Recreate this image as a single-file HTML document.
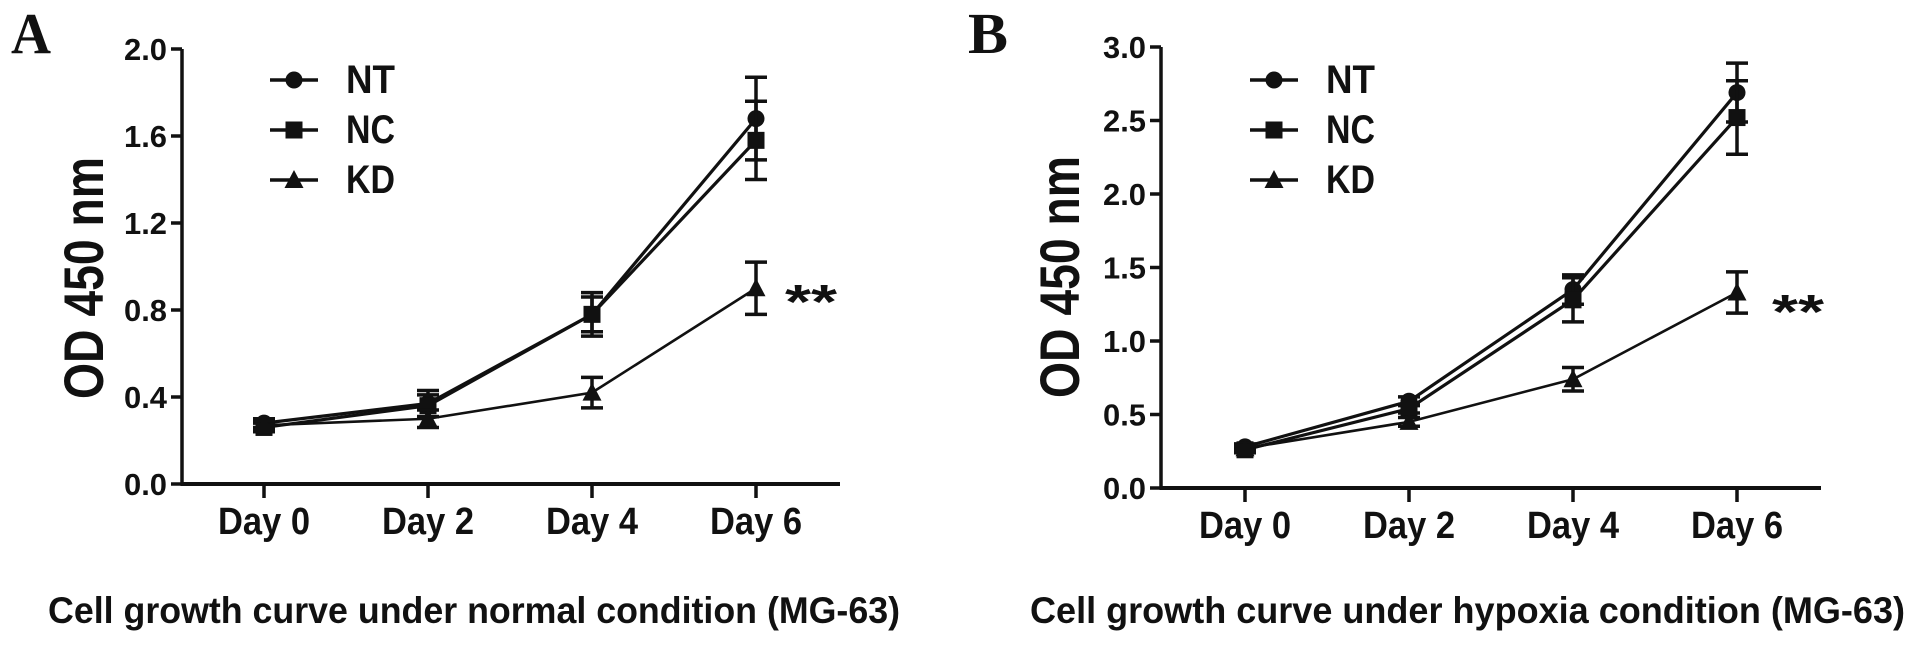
<!DOCTYPE html>
<html><head><meta charset="utf-8"><style>
html,body{margin:0;padding:0;background:#fff;}
svg{display:block;}
text{font-family:"Liberation Sans",Arial,sans-serif;font-weight:bold;fill:#111;}
</style></head>
<body>
<svg id="fig" width="1913" height="646" viewBox="0 0 1913 646"></svg>
<script>
const categories = ["Day 0","Day 2","Day 4","Day 6"];
const seriesNames = ["NT","NC","KD"];
// Panel A (normal condition)
const aTicks = [0.0,0.4,0.8,1.2,1.6,2.0];
const aTickLabels = ["0.0","0.4","0.8","1.2","1.6","2.0"];
const aNT = [0.28,0.37,0.78,1.68];
const aNTerr = [0.02,0.06,0.10,0.19];
const aNC = [0.26,0.36,0.78,1.58];
const aNCerr = [0.02,0.05,0.08,0.18];
const aKD = [0.27,0.30,0.42,0.90];
const aKDerr = [0.02,0.04,0.07,0.12];
// Panel B (hypoxia)
const bTicks = [0.0,0.5,1.0,1.5,2.0,2.5,3.0];
const bTickLabels = ["0.0","0.5","1.0","1.5","2.0","2.5","3.0"];
const bNT = [0.28,0.59,1.35,2.69];
const bNTerr = [0.02,0.03,0.10,0.20];
const bNC = [0.26,0.54,1.28,2.52];
const bNCerr = [0.02,0.03,0.15,0.25];
const bKD = [0.27,0.45,0.74,1.33];
const bKDerr = [0.02,0.03,0.08,0.14];

const NS="http://www.w3.org/2000/svg";
const svg=document.getElementById('fig');
function mk(tag,attrs,parent){const e=document.createElementNS(NS,tag);for(const k in attrs)e.setAttribute(k,attrs[k]);(parent||svg).appendChild(e);return e;}

function panel(cfg){
  const g=mk('g',{});
  
  
  const yMax=cfg.ticks[cfg.ticks.length-1];
  const Y=v=>cfg.y0-(v/yMax)*(cfg.y0-cfg.yTop);
  const X=i=>cfg.x0+i*cfg.dx;
  const L=mk('text',{x:cfg.letterX,y:53,'font-size':58,textLength:40,lengthAdjust:'spacingAndGlyphs',style:'font-family:"Liberation Serif",serif;font-weight:bold'},g);
  L.textContent=cfg.id.toUpperCase();
  
  
  const ya=mk('line',{x1:cfg.ax,y1:cfg.yTop,x2:cfg.ax,y2:cfg.y0+1.5,stroke:'#111','stroke-width':3.5},g);
  
  
  const xa=mk('line',{x1:cfg.ax-1.5,y1:cfg.y0,x2:cfg.axEnd,y2:cfg.y0,stroke:'#111','stroke-width':4},g);
  
  
  cfg.ticks.forEach((t,i)=>{
    const y=Y(t);
    const tl=mk('line',{x1:cfg.ax-11,y1:y,x2:cfg.ax,y2:y,stroke:'#111','stroke-width':3.5},g);
    
    
    const tx=mk('text',{x:cfg.ax-15,y:y+11,'font-size':31,'text-anchor':'end',textLength:43,lengthAdjust:'spacingAndGlyphs'},g);
    tx.textContent=cfg.tickLabels[i];
    
    
  });
  categories.forEach((c,i)=>{
    const x=X(i);
    const tl=mk('line',{x1:x,y1:cfg.y0,x2:x,y2:cfg.y0+14,stroke:'#111','stroke-width':3.5},g);
    
    
    const tx=mk('text',{x:x,y:cfg.y0+50,'font-size':38,'text-anchor':'middle',textLength:92,lengthAdjust:'spacingAndGlyphs'},g);
    tx.textContent=c;
    
    
  });
  const yt=mk('text',{x:0,y:0,'font-size':56,'text-anchor':'middle',textLength:242,lengthAdjust:'spacingAndGlyphs',transform:`translate(${cfg.ytX},${cfg.ytY}) rotate(-90)`},g);
  yt.textContent='OD 450 nm';
  
  
  const bt=mk('text',{x:cfg.titleX,y:623,'font-size':37,textLength:cfg.titleW,lengthAdjust:'spacingAndGlyphs'},g);
  bt.textContent=cfg.title;
  
  
  const series=[[cfg.nt,cfg.nterr,'circle',3.2],[cfg.nc,cfg.ncerr,'square',3.2],[cfg.kd,cfg.kderr,'triangle',2.6]];
  function marker(type,x,y,parent){
    let m;
    if(type==='circle') m=mk('circle',{cx:x,cy:y,r:8.5,fill:'#111'},parent);
    else if(type==='square') m=mk('rect',{x:x-8.5,y:y-8.5,width:17,height:17,fill:'#111'},parent);
    else m=mk('polygon',{points:`${x},${y-10} ${x-9.5},${y+8} ${x+9.5},${y+8}`,fill:'#111'},parent);
    return m;
  }
  series.forEach((s,si)=>{
    const sg=mk('g',{},g);
    
    
    const vals=s[0],errs=s[1];
    const pts=vals.map((v,i)=>X(i)+','+Y(v)).join(' ');
    const pl=mk('polyline',{points:pts,fill:'none',stroke:'#111','stroke-width':s[3]},sg);
    
    
    vals.forEach((v,i)=>{
      const x=X(i),yt=Y(v+errs[i]),yb=Y(v-errs[i]);
      const eb=mk('path',{d:`M${x},${yt}V${yb}M${x-11},${yt}H${x+11}M${x-11},${yb}H${x+11}`,stroke:'#111','stroke-width':3.5,fill:'none'},sg);
      
      
      const m=marker(s[2],x,Y(v),sg);
      
      
    });
    const ly=80+si*50;
    const lg=mk('g',{},g);
    
    
    mk('line',{x1:cfg.legX,y1:ly,x2:cfg.legX+48,y2:ly,stroke:'#111','stroke-width':3.5},lg);
    marker(s[2],cfg.legX+24,ly,lg);
    const lt=mk('text',{x:cfg.legX+76,y:ly+13,'font-size':40,textLength:49,lengthAdjust:'spacingAndGlyphs'},lg);
    lt.textContent=seriesNames[si];
  });
  const st=mk('text',{x:cfg.starX,y:cfg.starY,'font-size':48,textLength:52,lengthAdjust:'spacingAndGlyphs'},g);
  st.textContent='**';
  
  
}

panel({id:'a',ticks:aTicks,tickLabels:aTickLabels,nt:aNT,nterr:aNTerr,nc:aNC,ncerr:aNCerr,kd:aKD,kderr:aKDerr,
  ax:182,axEnd:840,y0:484,yTop:49,x0:264,dx:164,letterX:11,ytX:103,ytY:278,
  title:'Cell growth curve under normal condition (MG-63)',titleX:48,titleW:852,legX:270,starX:785,starY:318});
panel({id:'b',ticks:bTicks,tickLabels:bTickLabels,nt:bNT,nterr:bNTerr,nc:bNC,ncerr:bNCerr,kd:bKD,kderr:bKDerr,
  ax:1161,axEnd:1821,y0:488,yTop:47,x0:1245,dx:164,letterX:968,ytX:1079,ytY:277,
  title:'Cell growth curve under hypoxia condition (MG-63)',titleX:1030,titleW:875,legX:1250,starX:1772,starY:328});
</script>
</body></html>
